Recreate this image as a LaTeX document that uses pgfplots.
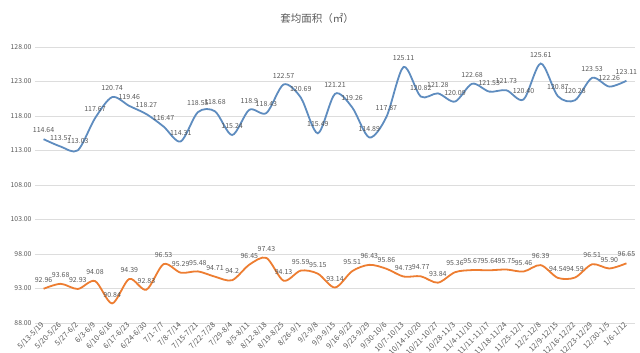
\documentclass[border=0pt]{standalone}
\usepackage{fontspec}
\setmainfont{Noto Sans CJK SC}
\usepackage{pgfplots}
\usepackage{pgfplotstable}
\pgfplotsset{compat=1.18}
\definecolor{blueL}{HTML}{5E8CBF}
\definecolor{orangeL}{HTML}{ED7D31}
\definecolor{gridc}{HTML}{DDDDDD}
\definecolor{txt}{HTML}{595959}

\pgfplotstableread{
x a b
0 114.64 92.96
1 113.57 93.68
2 113.03 92.93
3 117.67 94.08
4 120.74 90.84
5 119.46 94.39
6 118.27 92.83
7 116.47 96.53
8 114.31 95.29
9 118.55 95.48
10 118.68 94.71
11 115.24 94.2
12 118.9 96.45
13 118.43 97.43
14 122.57 94.13
15 120.69 95.59
16 115.49 95.15
17 121.21 93.14
18 119.26 95.51
19 114.89 96.43
20 117.87 95.86
21 125.11 94.73
22 120.82 94.77
23 121.28 93.84
24 120.09 95.36
25 122.68 95.67
26 121.53 95.64
27 121.73 95.75
28 120.40 95.46
29 125.61 96.39
30 120.87 94.54
31 120.28 94.59
32 123.53 96.51
33 122.26 95.90
34 123.11 96.65
}\data

\begin{document}
\begin{tikzpicture}[x=1pt,y=1pt]
\useasboundingbox (-35,-30) rectangle (605,323);
\clip (-35,-30) rectangle (605,323);
\node[text=txt, font=\fontsize{10.5}{12}\selectfont] at (282,305) {套均面积（㎡）};
\begin{axis}[
  at={(0,0)}, anchor=south west,
  scale only axis, width=600pt, height=276pt,
  xmin=-0.5, xmax=34.5, ymin=88, ymax=128,
  ytick={88,93,...,128},
  ymajorgrids, grid style={gridc, line width=0.6pt},
  axis line style={draw=none},
  major tick length=0pt,
  clip=false,
  yticklabel style={font=\fontsize{6.8}{8}\selectfont, text=txt,
    /pgf/number format/.cd, fixed, fixed zerofill, precision=2, assume math mode=true},
  xtick={0,...,34},
  xticklabels={5/13-5/19,5/20-5/26,5/27-6/2,6/3-6/9,6/10-6/16,6/17-6/23,6/24-6/30,7/1-7/7,7/8-7/14,7/15-7/21,7/22-7/28,7/29-8/4,8/5-8/11,8/12-8/18,8/19-8/25,8/26-9/1,9/2-9/8,9/9-9/15,9/16-9/22,9/23-9/29,9/30-10/6,10/7-10/13,10/14-10/20,10/21-10/27,10/28-11/3,11/4-11/10,11/11-11/17,11/18-11/24,11/25-12/1,12/2-12/8,12/9-12/15,12/16-12/22,12/23-12/29,12/30-1/5,1/6-1/12},
  xticklabel style={rotate=45, anchor=east, font=\fontsize{7.5}{8}\selectfont, text=txt, inner sep=1pt},
  nodes near coords,
  point meta=explicit symbolic,
  every node near coord/.style={font=\fontsize{7}{8}\selectfont, text=txt, anchor=south, yshift=2pt},
]
\addplot[blueL, line width=1.8pt, smooth, tension=0.5, mark=none] table[x=x, y=a, meta=a] {\data};
\addplot[orangeL, line width=1.8pt, smooth, tension=0.5, mark=none] table[x=x, y=b, meta=b] {\data};
\end{axis}
\end{tikzpicture}
\end{document}
